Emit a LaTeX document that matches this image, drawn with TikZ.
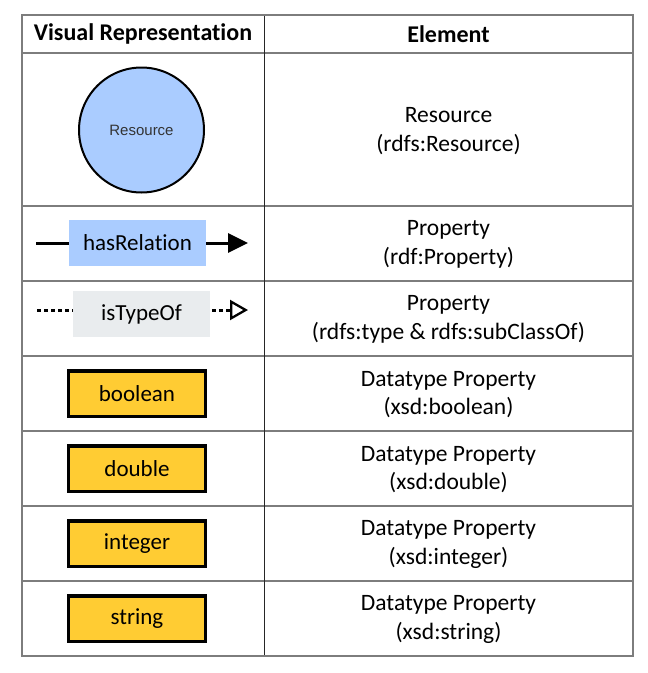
\documentclass[tikz,border=0pt]{standalone}
\usepackage{fontspec}
\setmainfont{Carlito}[Ligatures=NoCommon]
\newfontfamily\arialfont{Liberation Sans}
\usetikzlibrary{arrows.meta}
\definecolor{azulrecurso}{RGB}{170,204,255}
\definecolor{cinzatipo}{RGB}{233,236,238}
\definecolor{amarelodado}{RGB}{255,204,51}
\definecolor{linhatabela}{RGB}{125,125,125}
\tikzset{
  grade/.style={draw=linhatabela, line width=1.3pt},
  divisao/.style={draw=black!85, line width=1pt},
  cabecalho/.style={font=\fontsize{24}{28}\selectfont\bfseries},
  texto/.style={font=\fontsize{23.5}{28.5}\selectfont, align=center},
  recurso/.style={circle, draw, line width=2pt, fill=azulrecurso, inner sep=0pt,
    minimum size=125pt, font=\arialfont\fontsize{15}{17}\selectfont, text=black!80},
  rotulo/.style={inner sep=0pt, minimum width=137pt, minimum height=46pt,
    font=\fontsize{23}{27}\selectfont},
  dado/.style={draw, line width=3.5pt, fill=amarelodado, inner sep=0pt,
    minimum width=137pt, minimum height=45.5pt, font=\fontsize{23}{27}\selectfont},
  fio/.style={line width=3pt},
  pontilhado/.style={line width=3pt, dash pattern=on 3.5pt off 3.5pt},
}
\begin{document}
\begin{tikzpicture}[x=1pt, y=-1pt]
  \useasboundingbox (0,0) rectangle (648,673); % margens
  % linhas da tabela
  \foreach \y in {53,206,281,356,431,506,581} \draw[grade] (22,\y) -- (633,\y);
  \draw[divisao] (264,15) -- (264,656); % coluna
  \draw[grade] (22,15) rectangle (633,656); % borda
  % cabecalho
  \node[cabecalho] (hVisual) at (143,34) {Visual Representation};
  \node[cabecalho] (hElem) at (448.5,34) {Element};
  % recurso
  \node[recurso] (res) at (141.5,130) {Resource};
  \node[texto] (tRes) at (448.5,131) {Resource\\(rdfs:Resource)};
  % propriedade
  \node[rotulo, fill=azulrecurso] (hasRel) at (137.5,243) {hasRelation};
  \coordinate (hasIni) at (36,243);
  \coordinate (hasFim) at (248,243);
  \draw[fio] (hasIni) -- (hasRel.west);
  \draw[fio, -{Triangle[length=20pt, width=19pt]}] (hasRel.east) -- (hasFim);
  \node[texto] (tProp) at (448.5,244.5) {Property\\(rdf:Property)};
  % tipo
  \node[rotulo, fill=cinzatipo] (isType) at (141.5,314) {isTypeOf};
  \coordinate (tipoIni) at (37,310);
  \coordinate (tipoFim) at (248,310);
  \draw[pontilhado] (tipoIni) -- (isType.west |- tipoIni);
  \draw[pontilhado, -{Triangle[open, length=18pt, width=20pt, line width=2.3pt]}]
    (isType.east |- tipoFim) ++(2,0) -- (tipoFim);
  \node[texto] (tTipo) at (448.5,319.5) {Property\\(rdfs:type \& rdfs:subClassOf)};
  % tipos de dados
  \foreach \nome/\y in {boolean/393.5, double/468.5, integer/543.5, string/618.5} {
    \node[dado] (d\nome) at (137,\y) {\nome};
    \node[texto] (t\nome) at (448.5,\y+1) {Datatype Property\\(xsd:\nome)};
  }
\end{tikzpicture}
\end{document}
